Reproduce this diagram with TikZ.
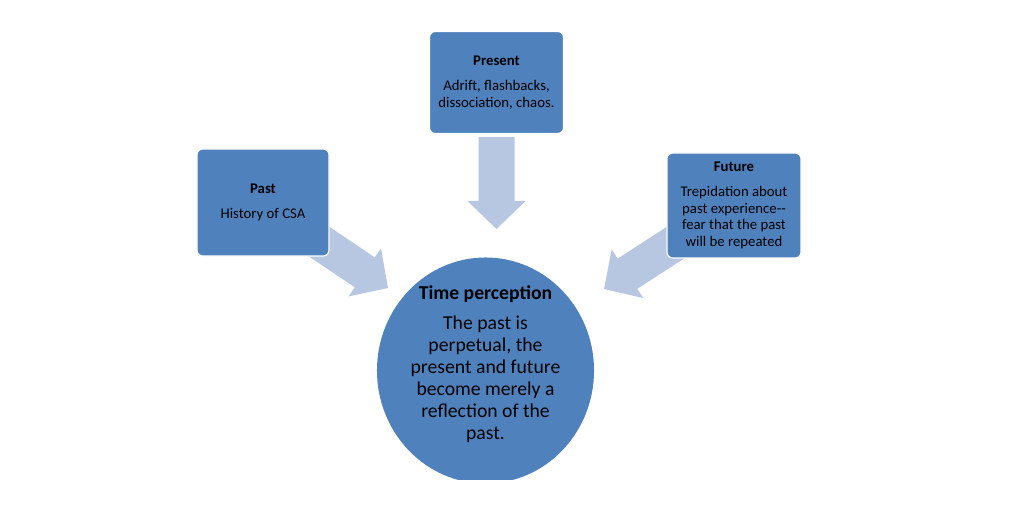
\documentclass[tikz,border=0pt]{standalone}
\usepackage{fontspec}
\setmainfont{Carlito}
\usetikzlibrary{calc,shapes.geometric}
\definecolor{boxblue}{RGB}{79,129,189}
\definecolor{arrowblue}{RGB}{183,199,226}
\newcommand{\fatarrow}[3]{%
  \coordinate (#3hb) at ($(#2)!0.7cm!(#1)$);
  \fill[arrowblue] ($(#1)!0.45cm!90:(#2)$) -- ($(#3hb)!0.45cm!90:(#2)$)
    -- ($(#3hb)!0.725cm!90:(#2)$) -- (#2)
    -- ($(#3hb)!0.725cm!-90:(#2)$) -- ($(#3hb)!0.45cm!-90:(#2)$)
    -- ($(#1)!0.45cm!-90:(#2)$) -- cycle;}

\begin{document}
\begin{tikzpicture}[x=0.025cm,y=-0.025cm,
  timebox/.style={rectangle, rounded corners=0.15cm, fill=boxblue, draw=white, line width=0.8pt,
    align=center, inner sep=0pt, font=\fontsize{10.5}{12}\selectfont},
  bigcircle/.style={ellipse, fill=boxblue, inner sep=0pt, minimum width=5.425cm, minimum height=5.65cm},
  circletext/.style={align=center, inner sep=0pt, font=\fontsize{14}{15.6}\selectfont}]
\useasboundingbox (0,0) rectangle (1024,512);
\begin{scope}
\clip (0,0) rectangle (1024,479);
\node[bigcircle] (tp) at (485.5,370.5) {};
\end{scope}
\node[circletext] (tptext) at (485.5,364) {\textbf{Time perception}\\[5.7pt]The past is\\perpetual, the\\present and future\\become merely a\\reflection of the\\past.};

\coordinate (prestail) at (496.5,137);
\coordinate (prestip) at (496.5,229);
\coordinate (pasttail) at (311.7,236.6);
\coordinate (pasttip) at (388,288);
\coordinate (futtail) at (681,239);
\coordinate (futtip) at (604,289);
\fatarrow{prestail}{prestip}{pres}
\fatarrow{pasttail}{pasttip}{past}
\fatarrow{futtail}{futtip}{fut}

\node[timebox, minimum width=3.35cm, minimum height=2.55cm] (present) at (496.5,82.5) {\textbf{Present}\\[5.7pt]Adrift, flashbacks,\\dissociation, chaos.};
\node[timebox, minimum width=3.3cm, minimum height=2.675cm] (past) at (263,202.5) {\textbf{Past}\\[5.7pt]History of CSA};
\node[timebox, minimum width=3.35cm, minimum height=2.625cm] (future) at (734,205.5) {\textbf{Future}\\[5.7pt]Trepidation about\\past experience-{}-\\fear that the past\\will be repeated};
\end{tikzpicture}
\end{document}
